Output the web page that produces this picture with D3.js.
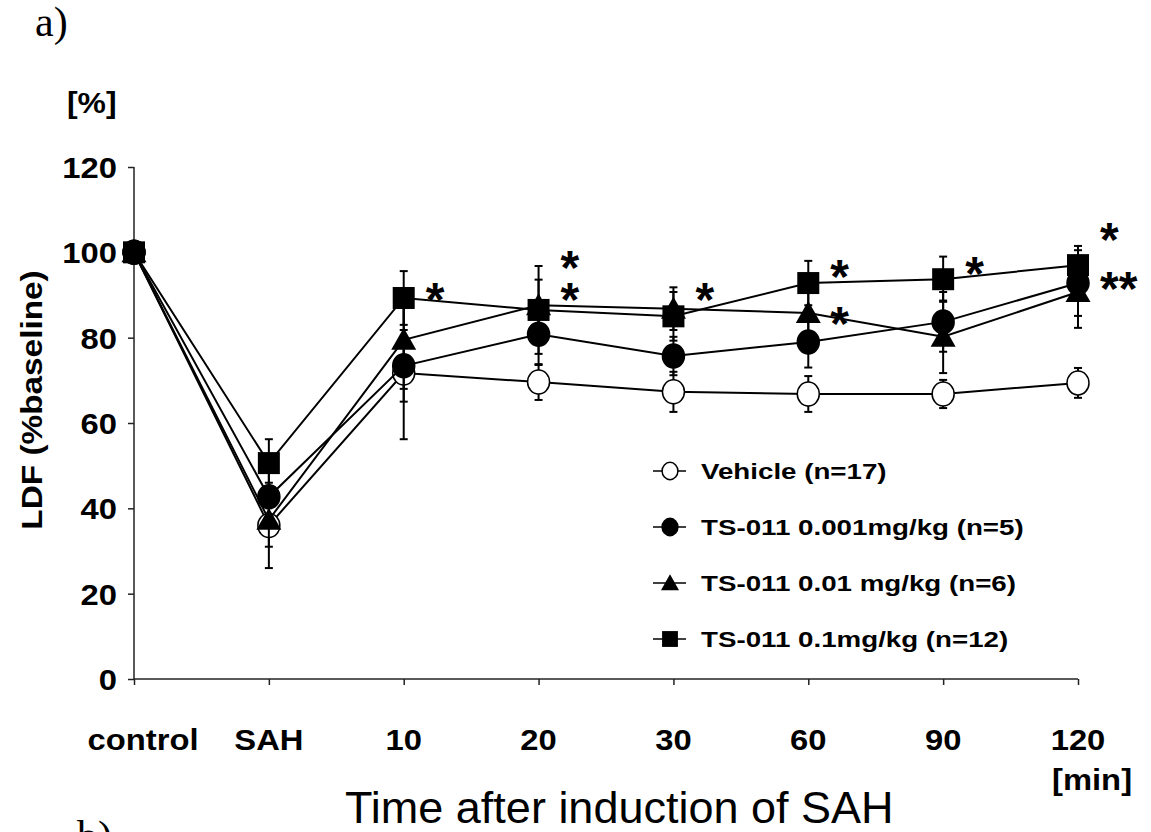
<!DOCTYPE html>
<html>
<head>
<meta charset="utf-8">
<script src="https://cdn.jsdelivr.net/npm/d3@7"></script>
<style>
  body { margin: 0; background: #fff; }
  text { font-family: "Liberation Sans", Arial, sans-serif; fill: #000; }
</style>
</head>
<body>
<div class="chart"></div>
<script>
var svgWidth = 1151;
var svgHeight = 832;

// categories on the x axis
var categories = ["control", "SAH", "10", "20", "30", "60", "90", "120"];
var yTicks = [0, 20, 40, 60, 80, 100, 120];

// mean values (% of baseline)
var vehicle = [100, 36, 71.7, 69.6, 67.3, 66.8, 66.8, 69.4];
var dose001 = [100, 42.7, 73.4, 80.8, 75.7, 79, 83.7, 92.8];
var dose01 = [100, 37.3, 79.5, 87.6, 86.8, 85.8, 80.2, 90.7];
var dose1 = [100, 50.6, 89.3, 86.5, 85, 92.8, 93.7, 97];

// standard deviations
var vehicleSD = [0, 10, 15.5, 4.2, 4.7, 4.2, 3.3, 3.5];
var dose001SD = [0, 7, 8.4, 7.2, 4.5, 6, 7, 7.7];
var dose01SD = [0, 6.3, 11.5, 6, 5, 7, 8.5, 8.4];
var dose1SD = [0, 5.6, 6.3, 10.3, 5.7, 5.2, 5.3, 4.5];

var legendNames = [
  "Vehicle (n=17)",
  "TS-011 0.001mg/kg (n=5)",
  "TS-011 0.01 mg/kg (n=6)",
  "TS-011 0.1mg/kg (n=12)"
];

// significance marks
var starCats = ["10", "20", "20", "30", "60", "60", "90", "120", "120"];
var starValues = [91.4, 98.9, 91.4, 91.4, 96.8, 85.8, 97.5, 105.5, 94];
var starTexts = ["*", "*", "*", "*", "*", "*", "*", "*", "**"];

var series = [
  { name: legendNames[0], values: vehicle, sd: vehicleSD, shape: "circle", fill: "#fff" },
  { name: legendNames[1], values: dose001, sd: dose001SD, shape: "circle", fill: "#000" },
  { name: legendNames[2], values: dose01, sd: dose01SD, shape: "triangle", fill: "#000" },
  { name: legendNames[3], values: dose1, sd: dose1SD, shape: "square", fill: "#000" }
];

var svg = d3.select(".chart")
  .append("svg")
  .attr("width", svgWidth)
  .attr("height", svgHeight);

var xScale = d3.scalePoint()
  .domain(categories)
  .range([134, 1078]);

var yScale = d3.scaleLinear()
  .domain([0, 120])
  .range([679, 167]);

// text helper, stretched horizontally like the original figure
function addText(x, y, str, size, weight, sx, anchor, family) {
  var g = svg.append("g")
    .attr("transform", `translate(${x}, ${y}) scale(${sx}, 1)`);
  var t = g.append("text")
    .attr("x", 0)
    .attr("y", 0)
    .style("font-size", size + "px")
    .style("font-weight", weight)
    .attr("text-anchor", anchor)
    .text(str);
  if (family) t.style("font-family", family);
  return g;
}

// draw a marker into a group
function drawMarker(g, shape, fill, cx, cy, s) {
  if (shape === "circle") {
    g.append("ellipse")
      .attr("cx", cx).attr("cy", cy)
      .attr("rx", 11 * s).attr("ry", 12 * s)
      .attr("fill", fill)
      .attr("stroke", "#000")
      .attr("stroke-width", 1.5);
  } else if (shape === "square") {
    g.append("rect")
      .attr("x", cx - 11 * s).attr("y", cy - 11 * s)
      .attr("width", 22 * s).attr("height", 22 * s)
      .attr("fill", fill);
  } else {
    var p = d3.path();
    p.moveTo(cx, cy - 12 * s);
    p.lineTo(cx + 12.5 * s, cy + 10 * s);
    p.lineTo(cx - 12.5 * s, cy + 10 * s);
    p.closePath();
    g.append("path").attr("d", p.toString()).attr("fill", fill);
  }
}

// axes
var axisColor = "#222";
var yAxis = d3.axisLeft(yScale).tickValues(yTicks).tickSize(6).tickFormat("");
var yAxisG = svg.append("g")
  .attr("transform", "translate(134, 0)")
  .call(yAxis);
var xAxis = d3.axisBottom(xScale).tickSize(6).tickFormat("");
var xAxisG = svg.append("g")
  .attr("transform", "translate(0, 679)")
  .call(xAxis);
[yAxisG, xAxisG].forEach(function (g) {
  g.select(".domain").attr("stroke", axisColor).attr("stroke-width", 1.5);
  g.selectAll(".tick line").attr("stroke", axisColor).attr("stroke-width", 1.5);
});
xAxisG.select(".domain").attr("d", "M134,0H1078");
yAxisG.select(".domain").attr("d", "M0,167V679");

// tick labels
yTicks.forEach(function (v) {
  addText(117, yScale(v) + 11, String(v), 29, "bold", 1.13, "end");
});
categories.forEach(function (c) {
  addText(xScale(c) + (c === "control" ? 9 : 0), 750, c, 29, "bold", 1.13, "middle");
});

// series: error bars, lines, markers
var line = d3.line()
  .x((d, i) => xScale(categories[i]))
  .y(d => yScale(d));

series.forEach(function (s) {
  var g = svg.append("g");
  s.values.forEach(function (v, i) {
    if (!s.sd[i]) return;
    var x = xScale(categories[i]);
    var y1 = yScale(v + s.sd[i]);
    var y2 = yScale(v - s.sd[i]);
    g.append("line").attr("x1", x).attr("x2", x).attr("y1", y1).attr("y2", y2)
      .attr("stroke", "#000").attr("stroke-width", 2);
    [y1, y2].forEach(function (yy) {
      g.append("line").attr("x1", x - 4).attr("x2", x + 4).attr("y1", yy).attr("y2", yy)
        .attr("stroke", "#000").attr("stroke-width", 2);
    });
  });
  g.append("path")
    .datum(s.values)
    .attr("d", line)
    .attr("fill", "none")
    .attr("stroke", "#000")
    .attr("stroke-width", 2);
  s.values.forEach(function (v, i) {
    drawMarker(g, s.shape, s.fill, xScale(categories[i]), yScale(v), 1);
  });
});

// asterisks
starValues.forEach(function (v, i) {
  svg.append("text")
    .attr("x", xScale(starCats[i]) + 22)
    .attr("y", yScale(v) + 27)
    .style("font-size", "48px")
    .style("font-weight", "bold")
    .text(starTexts[i]);
});

// legend
series.forEach(function (s, i) {
  var y = 471 + i * 56;
  var g = svg.append("g");
  g.append("line").attr("x1", 653).attr("x2", 686).attr("y1", y).attr("y2", y)
    .attr("stroke", "#000").attr("stroke-width", 1.5);
  drawMarker(g, s.shape, s.fill, 670, y, 0.72);
  addText(701, y + 8, s.name, 22, "bold", 1.26, "start");
});

// labels
addText(35, 36, "a)", 42, "normal", 1, "start", "'Liberation Serif', 'Times New Roman', serif");
addText(77, 850, "b)", 42, "normal", 1, "start", "'Liberation Serif', 'Times New Roman', serif");
addText(67, 113, "[%]", 29, "bold", 1.1, "start");
addText(1092, 790, "[min]", 29, "bold", 1.13, "middle");
addText(345, 823, "Time after induction of SAH", 45, "normal", 1, "start");

svg.append("g")
  .attr("transform", `translate(42, 400) rotate(-90) scale(1.15, 1)`)
  .append("text")
  .attr("text-anchor", "middle")
  .style("font-size", "29px")
  .style("font-weight", "bold")
  .text("LDF (%baseline)");
</script>
</body>
</html>
